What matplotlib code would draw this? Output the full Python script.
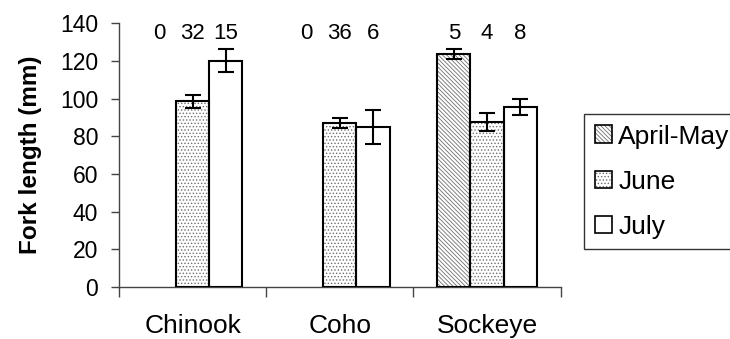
import numpy as np
import matplotlib

matplotlib.use("Agg")
import matplotlib.pyplot as plt
from matplotlib.patches import Patch
from matplotlib.legend_handler import HandlerTuple

plt.rcParams["font.family"] = ["Liberation Sans", "DejaVu Sans"]
plt.rcParams["hatch.linewidth"] = 0.6

species = ["Chinook", "Coho", "Sockeye"]
periods = ["April-May", "June", "July"]
means = {
    "April-May": [np.nan, np.nan, 123.5],
    "June": [98.5, 87.0, 87.5],
    "July": [120.0, 85.0, 95.5],
}
errors = {
    "April-May": [np.nan, np.nan, 2.5],
    "June": [3.5, 2.5, 4.8],
    "July": [6.0, 9.0, 4.5],
}
counts = {
    "April-May": [0, 0, 5],
    "June": [32, 36, 4],
    "July": [15, 6, 8],
}
hatches = {"April-May": "\\\\\\\\\\\\\\\\", "June": ".....", "July": ""}

fig = plt.figure(figsize=(7.3, 3.39), dpi=100)
ax = fig.add_axes([0.163, 0.153, 0.605, 0.779])

x = np.arange(len(species))
width = 0.225
handles = []
for i, p in enumerate(periods):
    pos = x + (i - 1) * width
    ax.bar(pos, means[p], width, color="white", edgecolor="#707070",
           hatch=hatches[p], lw=0, zorder=2)
    ax.bar(pos, means[p], width, fill=False, edgecolor="black", lw=1.5, zorder=3)
    ax.errorbar(pos, means[p], yerr=errors[p], fmt="none", ecolor="black",
                elinewidth=1.5, capsize=6, capthick=1.5, zorder=4)
    for xp, n in zip(pos, counts[p]):
        ax.text(xp, 134.5, str(n), ha="center", va="center", fontsize=16)
    h1 = Patch(facecolor="white", edgecolor="#707070", hatch=hatches[p], lw=0)
    h2 = Patch(fill=False, edgecolor="black", lw=1.2)
    handles.append((h1, h2))

ax.set_xlim(-0.5, 2.5)
ax.set_ylim(0, 140)
ax.set_yticks(np.arange(0, 141, 20))
ax.set_xticks(x)
ax.set_xticklabels(species, fontsize=19)
ax.set_xticks(np.arange(-0.5, 2.6, 1), minor=True)
ax.tick_params(axis="x", which="major", length=0, pad=19)
ax.tick_params(axis="x", which="minor", length=7, width=1, color="#444")
ax.tick_params(axis="y", length=6, width=1, color="#444", labelsize=16.5, pad=9)
ax.set_ylabel("Fork length (mm)", fontsize=17.5, fontweight="bold", labelpad=13)
for s in ["top", "right"]:
    ax.spines[s].set_visible(False)
for s in ["left", "bottom"]:
    ax.spines[s].set_color("#444")
    ax.spines[s].set_linewidth(1)

leg = fig.legend(handles, periods, handler_map={tuple: HandlerTuple(ndivide=1)},
                 loc="upper left", bbox_to_anchor=(584 / 730, 1 - 114 / 339),
                 fontsize=19, frameon=True, fancybox=False, handlelength=0.65,
                 handleheight=0.65, handletextpad=0.25, labelspacing=0.8,
                 borderpad=0.4, borderaxespad=0)
leg.get_frame().set_edgecolor("black")
leg.get_frame().set_linewidth(1)

fig.savefig("out.png", dpi=100)
